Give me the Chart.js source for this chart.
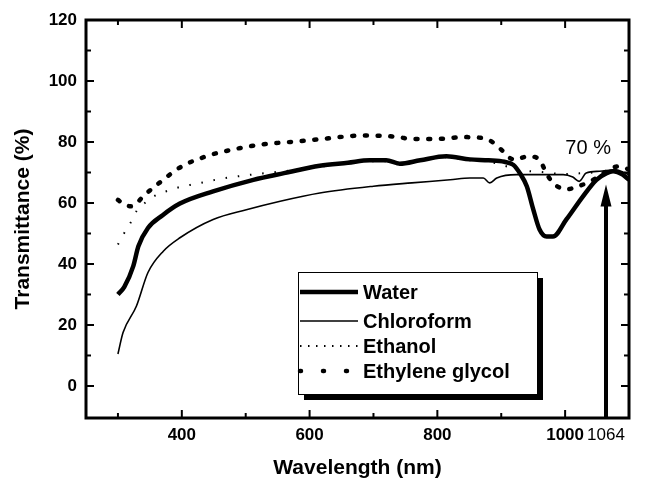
<!DOCTYPE html>
<html>
<head>
<meta charset="utf-8">
<title>Transmittance of solvents</title>
<script src="https://cdn.jsdelivr.net/npm/chart.js@4.4.1/dist/chart.umd.min.js"></script>
<style>
  html, body { margin: 0; padding: 0; background: #fff; }
  canvas { display: block; }
</style>
</head>
<body>
<canvas id="transChart" width="650" height="481"></canvas>
<script>
// wavelength (nm) and transmittance (%) per solvent
const waterNm = [300, 310, 324, 332, 347, 370, 397, 449, 512, 560, 616, 660, 694, 720, 741, 773, 814, 851, 880, 905, 919, 930, 940, 950, 960, 971, 981, 1002, 1028, 1049, 1065, 1075, 1090, 1100];
const waterT  = [30, 32.5, 39.3, 45.8, 51.8, 56, 59.8, 63.8, 67.6, 69.8, 72.2, 73.2, 74, 74, 72.9, 74, 75.3, 74.3, 74, 73.5, 72.5, 69.5, 65.5, 58, 51.3, 49, 49, 54.6, 62.2, 67.6, 69.8, 70.4, 69.3, 67.6];

const chloroNm = [300, 308, 329, 347, 371, 397, 449, 501, 554, 616, 700, 760, 820, 851, 872, 882, 893, 924, 945, 976, 997, 1012, 1022, 1033, 1054, 1080, 1092, 1100];
const chloroT  = [10.5, 17.5, 26.2, 37.2, 44.2, 48.6, 54.6, 57.8, 60.6, 63.3, 65.5, 66.6, 67.6, 68.2, 68.2, 66.6, 68.2, 69.3, 69.3, 69.3, 69.3, 68.5, 67.1, 69.8, 70.4, 70.9, 70, 69.3];

const ethanolNm = [300, 310, 321, 329, 342, 361, 381, 402, 421, 441, 460, 522, 559, 616, 660, 694, 720, 741, 773, 814, 851, 880, 905, 930, 960, 1000, 1050, 1100];
const ethanolT  = [46.4, 50.2, 54, 57.3, 60, 62.7, 64.2, 65.5, 66.2, 67.1, 67.9, 69.6, 70.4, 71.9, 72.9, 73.7, 73.7, 72.6, 73.7, 75, 74, 73.6, 72.2, 70.8, 70.2, 69.5, 70, 70];

const glycolNm = [300, 310, 321, 342, 363, 400, 441, 462, 522, 582, 621, 681, 720, 741, 762, 801, 840, 861, 882, 900, 912, 921, 942, 960, 970, 981, 1002, 1021, 1044, 1062, 1083, 1100];
const glycolT  = [61, 59.5, 58.9, 62.7, 66.3, 72, 75.5, 76.7, 79.1, 80.2, 81, 82.1, 82, 81.5, 81, 81, 81.6, 81.5, 80.5, 77.5, 75, 74.2, 75.3, 74.2, 70, 66.6, 64.5, 65.5, 67.6, 70, 72, 71];

const xTickLabels = [400, 600, 800, 1000, 1064];
const yTickLabels = [0, 20, 40, 60, 80, 100, 120];

// laser line marker
const laserNm = 1064;
const laserT = 70;

const FONT = '"Liberation Sans", Arial, sans-serif';

function pts(nm, t) {
    return nm.map((x, i) => ({ x: x, y: t[i] }));
}

function line(ctx, x1, y1, x2, y2) {
    ctx.beginPath();
    ctx.moveTo(x1, y1);
    ctx.lineTo(x2, y2);
    ctx.stroke();
}

// frame with inward ticks, laser arrow and boxed legend
const decorations = {
    id: "decorations",
    afterDatasetsDraw(chart) {
        const { ctx, chartArea: a, scales: { x, y } } = chart;
        ctx.save();
        ctx.strokeStyle = "#000";
        ctx.fillStyle = "#000";
        ctx.lineCap = "butt";
        ctx.setLineDash([]);

        ctx.lineWidth = 2;
        for (let v = 300; v <= 1100; v += 100) {
            const px = x.getPixelForValue(v);
            const len = v % 200 === 0 ? 8 : 5;
            line(ctx, px, a.bottom, px, a.bottom - len);
            line(ctx, px, a.top, px, a.top + len);
        }
        for (let v = 0; v <= 120; v += 10) {
            const py = y.getPixelForValue(v);
            const len = v % 20 === 0 ? 8 : 5;
            line(ctx, a.left, py, a.left + len, py);
            line(ctx, a.right, py, a.right - len, py);
        }

        ctx.lineWidth = 3;
        ctx.strokeRect(a.left, a.top, a.width, a.height);

        // arrow at 1064 nm
        const ax = x.getPixelForValue(laserNm);
        const tip = y.getPixelForValue(laserT) + 12;
        ctx.lineWidth = 4;
        line(ctx, ax, a.bottom, ax, tip + 18);
        ctx.beginPath();
        ctx.moveTo(ax, tip);
        ctx.lineTo(ax - 5.5, tip + 22);
        ctx.lineTo(ax + 5.5, tip + 22);
        ctx.closePath();
        ctx.fill();

        ctx.font = "20px " + FONT;
        ctx.textAlign = "center";
        ctx.textBaseline = "middle";
        ctx.fillText(laserT + " %", x.getPixelForValue(1036), y.getPixelForValue(78));

        // legend box with drop shadow
        const lx = a.left + 212, ly = a.top + 252, lw = 239, lh = 122;
        ctx.fillRect(lx + 6, ly + 6, lw, lh);
        ctx.fillStyle = "#fff";
        ctx.fillRect(lx, ly, lw, lh);
        ctx.lineWidth = 1;
        ctx.strokeRect(lx + 0.5, ly + 0.5, lw, lh);

        const rows = [20, 49, 74, 99];
        ctx.textAlign = "left";
        ctx.font = "bold 20px " + FONT;
        chart.data.datasets.forEach((ds, i) => {
            const ry = ly + rows[i];
            ctx.strokeStyle = ds.borderColor;
            ctx.lineWidth = ds.borderWidth;
            ctx.lineCap = ds.borderCapStyle || "butt";
            ctx.setLineDash(ds.legendDash || ds.borderDash || []);
            line(ctx, lx + 2, ry, lx + 60, ry);
            ctx.setLineDash([]);
            ctx.fillStyle = "#000";
            ctx.fillText(ds.label, lx + 65, ry + 1);
        });
        ctx.restore();
    }
};

const ctx = document.getElementById("transChart").getContext("2d");

new Chart(ctx, {
    type: "scatter",
    data: {
        datasets: [
            {
                label: "Water",
                data: pts(waterNm, waterT),
                borderColor: "#000",
                borderWidth: 4.5
            },
            {
                label: "Chloroform",
                data: pts(chloroNm, chloroT),
                borderColor: "#000",
                borderWidth: 1.6
            },
            {
                label: "Ethanol",
                data: pts(ethanolNm, ethanolT),
                borderColor: "#000",
                borderWidth: 2,
                borderDash: [1.5, 10.8],
                legendDash: [1.5, 6.5]
            },
            {
                label: "Ethylene glycol",
                data: pts(glycolNm, glycolT),
                borderColor: "#000",
                borderWidth: 4.5,
                borderCapStyle: "round",
                borderDash: [2, 10.7],
                legendDash: [1, 22]
            }
        ]
    },
    options: {
        responsive: false,
        animation: false,
        devicePixelRatio: 1,
        showLine: true,
        layout: { padding: { top: 20, right: 21, left: 0, bottom: 0 } },
        elements: {
            point: { radius: 0, hoverRadius: 0 },
            line: { cubicInterpolationMode: "monotone", fill: false }
        },
        plugins: {
            legend: { display: false },
            tooltip: { enabled: false }
        },
        scales: {
            x: {
                type: "linear",
                min: 250,
                max: 1100,
                grid: { display: false, drawTicks: false },
                border: { display: false },
                afterBuildTicks: s => { s.ticks = xTickLabels.map(v => ({ value: v })); },
                afterFit: s => { s.height = 63; },
                ticks: {
                    color: "#000",
                    padding: 7,
                    autoSkip: false,
                    maxRotation: 0,
                    font: c => ({
                        family: FONT,
                        size: 17,
                        weight: c.tick && c.tick.value === laserNm ? "normal" : "bold"
                    }),
                    callback: v => String(v)
                },
                title: {
                    display: true,
                    text: "Wavelength (nm)",
                    color: "#000",
                    font: { family: FONT, size: 21, weight: "bold" },
                    padding: { top: 9, bottom: 0 }
                }
            },
            y: {
                type: "linear",
                min: -10.5,
                max: 120,
                grid: { display: false, drawTicks: false },
                border: { display: false },
                afterBuildTicks: s => { s.ticks = yTickLabels.map(v => ({ value: v })); },
                afterFit: s => { s.width = 86; },
                ticks: {
                    color: "#000",
                    padding: 9,
                    font: { family: FONT, size: 17, weight: "bold" },
                    callback: v => String(v)
                },
                title: {
                    display: true,
                    text: "Transmittance (%)",
                    color: "#000",
                    font: { family: FONT, size: 21, weight: "bold" },
                    padding: { top: 11, bottom: 0 }
                }
            }
        }
    },
    plugins: [decorations]
});
</script>
</body>
</html>
